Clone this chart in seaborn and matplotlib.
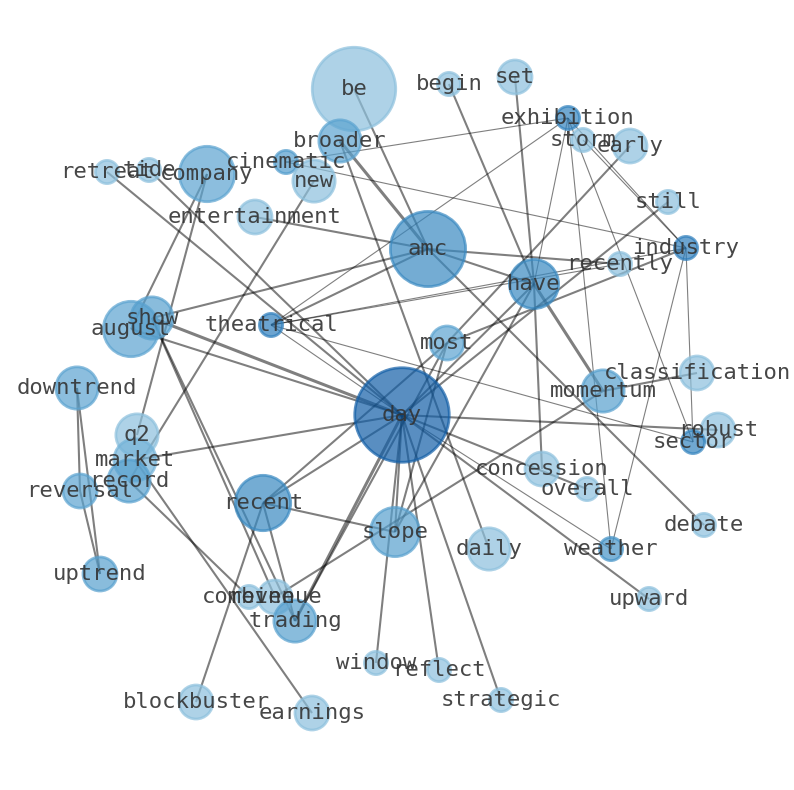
import numpy as np
import pandas as pd
import matplotlib
matplotlib.use("Agg")
import matplotlib.pyplot as plt
from matplotlib.collections import LineCollection
import seaborn as sns

# ---- data ----
words = ["be", "begin", "set", "exhibition", "storm", "early", "still", "industry",
         "recently", "have", "amc", "broader", "cinematic", "new", "company", "tide",
         "retreat", "entertainment", "august", "show", "theatrical", "most", "day",
         "downtrend", "q2", "market", "record", "reversal", "recent", "slope", "daily",
         "concession", "overall", "momentum", "classification", "robust", "sector",
         "debate", "weather", "upward", "uptrend", "combine", "revenue", "trading",
         "window", "reflect", "strategic", "blockbuster", "earnings"]
layout_x = [354, 449, 515, 568, 583, 630, 668, 686, 620, 534, 428, 340, 286, 314, 207, 149,
            107, 255, 131, 152, 271, 447, 402, 77, 137, 135, 129, 80, 263, 395, 489,
            542, 587, 603, 697, 718, 693, 704, 611, 649, 100, 249, 275, 295, 376, 439, 501,
            196, 312]
layout_y = [89, 84, 77, 118, 140, 146, 202, 248, 264, 284, 249, 141, 162, 181, 174, 170,
            172, 217, 329, 318, 325, 343, 415, 388, 435, 460, 481, 491, 503, 532, 549,
            469, 489, 391, 373, 430, 442, 525, 549, 599, 574, 597, 597, 621, 663, 670, 700,
            702, 713]
frequency = [11, 1, 2, 1, 1, 2, 1, 1, 1, 4, 9, 3, 1, 3, 5, 1,
             1, 2, 5, 3, 1, 2, 14, 3, 3, 3, 3, 2, 5, 4, 3,
             2, 1, 3, 2, 2, 1, 1, 1, 1, 2, 1, 2, 3, 1, 1, 1,
             2, 2]
centrality = [0.42, 0.42, 0.42, 0.68, 0.42, 0.42, 0.42, 0.70, 0.42, 0.66, 0.66, 0.55, 0.58, 0.42, 0.55, 0.42,
              0.42, 0.42, 0.55, 0.56, 0.70, 0.55, 0.82, 0.55, 0.42, 0.48, 0.56, 0.55, 0.66, 0.56, 0.42,
              0.42, 0.42, 0.56, 0.42, 0.42, 0.68, 0.42, 0.62, 0.42, 0.56, 0.42, 0.42, 0.56, 0.42, 0.42, 0.42,
              0.42, 0.42]

edge_source = ["day", "day", "day", "day", "day", "day", "day", "day", "day", "day",
               "day", "day", "day", "day", "day", "day", "day", "day",
               "most", "most", "most", "most", "most",
               "have", "have", "have", "have", "amc", "have", "have", "have",
               "amc", "amc", "amc", "amc", "amc", "amc",
               "broader", "cinematic", "cinematic", "theatrical", "theatrical", "theatrical", "theatrical",
               "exhibition", "exhibition", "exhibition", "storm", "industry", "industry",
               "momentum", "momentum", "recent", "recent", "recent", "show", "show",
               "company", "company", "new", "record", "market",
               "downtrend", "downtrend", "reversal"]
edge_target = ["show", "august", "retreat", "tide", "theatrical", "market", "recent", "slope", "trading", "window",
               "reflect", "strategic", "upward", "weather", "overall", "robust", "have", "still",
               "early", "industry", "slope", "recent", "trading",
               "begin", "set", "exhibition", "amc", "recently", "momentum", "concession", "slope",
               "entertainment", "show", "broader", "be", "theatrical", "debate",
               "daily", "exhibition", "industry", "exhibition", "recently", "industry", "sector",
               "weather", "sector", "industry", "industry", "weather", "sector",
               "classification", "revenue", "slope", "blockbuster", "trading", "trading", "revenue",
               "august", "q2", "record", "combine", "earnings",
               "uptrend", "reversal", "uptrend"]
edge_weight = [3, 2, 2, 2, 1, 2, 2, 2, 3, 2,
               2, 2, 2, 1, 2, 2, 2, 2,
               2, 2, 2, 2, 2,
               2, 2, 1, 2, 2, 3, 2, 2,
               2, 2, 3, 2, 2, 2,
               2, 1, 1, 1, 1, 1, 1,
               1, 1, 1, 1, 1, 1,
               2, 2, 2, 2, 2, 2, 2,
               2, 2, 2, 2, 2,
               2, 2, 2]

# ---- tables ----
nodes = pd.DataFrame({"word": words, "x": layout_x, "y": layout_y,
                      "freq": frequency, "score": centrality})
pos = {w: (x, y) for w, x, y in zip(words, layout_x, layout_y)}

# ---- figure ----
sns.set_theme(style="white")
plt.rcParams["font.family"] = ["DejaVu Sans Mono", "DejaVu Sans"]
fig = plt.figure(figsize=(7.94, 7.90), dpi=100)
ax = fig.add_axes([0, 0, 1, 1])

# edges
segs = [[pos[a], pos[b]] for a, b in zip(edge_source, edge_target)]
lw_map = {1: 0.8, 2: 1.5, 3: 2.2}
lws = [lw_map[w] for w in edge_weight]
lc = LineCollection(segs, colors="black", alpha=0.5, linewidths=lws, zorder=1)
ax.add_collection(lc)

# nodes: area proportional to frequency (radius 13 px for frequency 1)
node_lw = 2.0
size_levels = sorted(set(frequency))
size_map = {f: (2 * 0.72 * 13 * np.sqrt(f) - node_lw) ** 2 for f in size_levels}
sns.scatterplot(data=nodes, x="x", y="y", hue="score", palette="Blues",
                hue_norm=(0, 1), size="freq", sizes=size_map, alpha=0.7,
                linewidth=node_lw, legend=False, ax=ax, zorder=2)
coll = ax.collections[-1]
coll.set_edgecolors(coll.get_facecolors())

for w, x, y in zip(words, layout_x, layout_y):
    ax.text(x, y, w, ha="center", va="center", fontsize=16,
            color="#333333", alpha=0.9, zorder=3)

ax.set_xlim(0, 794)
ax.set_ylim(790, 0)
ax.set_axis_off()
fig.savefig("out.png", dpi=100)
